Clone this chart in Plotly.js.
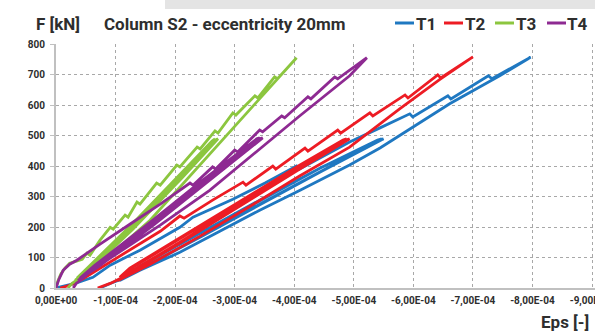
<!DOCTYPE html>
<html>
<head>
<meta charset="utf-8">
<script src="https://cdn.plot.ly/plotly-3.0.1.min.js"></script>
<style>
  html, body { margin: 0; padding: 0; background: #fff; overflow: hidden; }
  #chart { width: 595px; height: 334px; }
  #topbar { position: absolute; left: 165px; top: 0; width: 430px; height: 9px; background: #e4e4e4; z-index: 10; }
</style>
</head>
<body>
<div id="topbar"></div>
<div id="chart"></div>
<script>
// Strain values in units of 1E-4 (negative = compression), forces in kN
const epsT1 = [0,-0.15,-0.32,-0.62,-0.91,-1.41,-2.08,-2.30,-2.63,-2.97,-3.51,-4.04,-4.09,-4.60,-4.93,-5.44,-5.94,-5.99,-6.58,-6.63,-7.26,-7.32,-7.97,
  -7.92,-7.45,-6.61,-5.44,-4.93,-4.09,-3.42,-2.75,-2.08,-1.41,-1.07,
  -1.41,-2.42,-3.42,-4.43,-5.47,
  -5.40,-4.43,-3.42,-2.42,-1.41,-1.11,
  -1.44,-2.45,-3.46,-4.46,-5.50,
  -5.44,-4.46,-3.46,-2.45,-1.44,-1.14,
  -0.91,-0.74];
const forceT1 = [0,6,15,35,75,124,199,232,262,291,344,400,390,443,479,525,571,561,630,620,696,686,757,
  751,696,604,459,403,320,255,186,117,58,25,
  61,167,275,380,489,
  485,393,288,180,72,32,
  65,170,278,383,489,
  485,396,291,183,75,32,
  15,0];

const epsT2 = [-0.07,-0.23,-0.44,-0.74,-1.07,-1.41,-1.75,-2.08,-2.15,-2.63,-3.14,-3.19,-3.64,-3.69,-4.18,-4.23,-4.73,-4.78,-5.27,-5.32,-5.86,-5.91,-6.41,-6.46,-7.00,
  -6.95,-6.44,-5.77,-4.93,-4.09,-3.26,-2.42,-1.58,-1.04,
  -1.24,-2.08,-3.26,-4.09,-4.88,
  -4.82,-4.09,-3.26,-2.08,-1.24,-1.07,
  -1.29,-2.13,-3.31,-4.14,-4.93,
  -4.87,-4.14,-3.31,-2.13,-1.29,-1.12,
  -0.91,-0.70];
const forceT2 = [0,9,29,65,104,144,186,236,229,288,347,337,400,390,459,449,518,508,574,564,633,623,699,689,758,
  751,683,587,462,367,268,170,78,25,
  51,150,294,393,489,
  485,403,304,163,65,35,
  55,153,297,396,489,
  485,406,307,166,68,35,
  15,0];

const epsT3 = [0,-0.03,-0.08,-0.15,-0.23,-0.34,-0.44,-0.52,-0.57,-0.74,-0.91,-0.96,-1.16,-1.21,-1.36,-1.41,-1.69,-1.75,-2.03,-2.08,-2.37,-2.42,-2.67,-2.72,-2.97,-3.02,-3.34,-3.39,-3.67,-3.72,-4.04,
  -3.99,-3.26,-2.42,-1.58,-0.91,-0.49,-0.32,
  -0.57,-1.24,-2.08,-2.67,
  -2.62,-2.08,-1.24,-0.57,-0.35,
  -0.62,-1.29,-2.13,-2.72,
  -2.67,-2.13,-1.29,-0.62,-0.40,
  -0.27,-0.20];
const forceT3 = [0,22,45,65,81,88,94,114,107,157,199,193,239,232,282,275,344,337,403,397,462,456,515,508,574,567,630,623,692,686,755,
  741,584,403,222,107,48,25,
  65,190,360,489,
  482,373,202,74,32,
  68,193,364,489,
  485,376,205,78,32,
  15,0];

const epsT4 = [0,-0.05,-0.12,-0.23,-0.35,-0.74,-1.24,-1.75,-2.25,-2.30,-2.63,-2.68,-3.00,-3.05,-3.42,-3.47,-3.79,-3.84,-4.23,-4.28,-4.68,-4.73,-5.22,
  -5.15,-4.93,-4.09,-3.26,-2.58,-1.75,-0.91,-0.37,
  -0.65,-1.58,-2.42,-3.42,
  -3.37,-2.42,-1.58,-0.65,-0.40,
  -0.70,-1.63,-2.47,-3.47,
  -3.42,-2.47,-1.63,-0.70,-0.45,
  -0.34,-0.29];
const forceT4 = [0,29,58,78,91,144,209,275,344,337,397,390,452,446,518,512,564,558,627,620,692,686,755,
  741,696,564,429,320,206,98,25,
  65,202,334,492,
  489,347,215,74,32,
  68,205,337,492,
  489,350,218,78,32,
  15,0];

const seriesNames = ['T1','T2','T3','T4'];
const seriesColors = ['#1f78c1','#ed1c24','#8cc63f','#8e2a92'];
const xTickVals = [0,-1e-4,-2e-4,-3e-4,-4e-4,-5e-4,-6e-4,-7e-4,-8e-4,-9e-4];
const xTickText = ['0,00E+00','-1,00E-04','-2,00E-04','-3,00E-04','-4,00E-04','-5,00E-04','-6,00E-04','-7,00E-04','-8,00E-04','-9,00E-04'];
const yTickVals = [0,100,200,300,400,500,600,700,800];

const epsAll = [epsT1, epsT2, epsT3, epsT4];
const forceAll = [forceT1, forceT2, forceT3, forceT4];

const traces = seriesNames.map((n, i) => ({
  type: 'scatter', mode: 'lines', name: n,
  x: epsAll[i].map(v => v * 1e-4), y: forceAll[i],
  line: { color: seriesColors[i], width: 2.8 },
  showlegend: false, hoverinfo: 'skip'
}));

const W = 595, ML = 56, PW = W - ML, MT = 44, PH = 244;
const px = p => (p - ML) / PW;
const py = p => (MT + PH - p) / PH;

const FONT = 'Roboto, "Open Sans", sans-serif';
const TITLE_FONT = { family: FONT, size: 17, color: '#2e2e2e', weight: 700 };
const annotations = [
  { text: 'F [kN]', x: px(34), y: py(24), xref: 'paper', yref: 'paper', xanchor: 'left', yanchor: 'middle', showarrow: false, font: TITLE_FONT },
  { text: 'Column S2 - eccentricity 20mm', x: px(102), y: py(24), xref: 'paper', yref: 'paper', xanchor: 'left', yanchor: 'middle', showarrow: false, font: TITLE_FONT },
  { text: 'Eps [-]', x: px(591), y: py(322), xref: 'paper', yref: 'paper', xanchor: 'right', yanchor: 'middle', showarrow: false, font: TITLE_FONT }
];
const legendLine = [[395,414],[444,463],[495,514],[547,566]];
const legendText = [414,463,514,565];
const shapes = [];
seriesNames.forEach((n, i) => {
  shapes.push({ type: 'line', xref: 'paper', yref: 'paper', x0: px(legendLine[i][0]), x1: px(legendLine[i][1]), y0: py(23), y1: py(23),
    line: { color: seriesColors[i], width: 3 } });
  annotations.push({ text: n, x: px(legendText[i]), y: py(24), xref: 'paper', yref: 'paper', xanchor: 'left', yanchor: 'middle', showarrow: false, font: TITLE_FONT });
});

const TICK_FONT = { family: FONT, size: 10, color: '#2e2e2e', weight: 700 };
const layout = {
  width: 595, height: 334,
  margin: { l: ML, r: 0, t: MT, b: 334 - MT - PH, pad: 0 },
  paper_bgcolor: '#fff', plot_bgcolor: '#fff',
  showlegend: false,
  xaxis: {
    range: [0, -9.05e-4], autorange: false,
    tickvals: xTickVals, ticktext: xTickText, ticks: '', ticklabeloverflow: 'allow', ticklabelstandoff: 2,
    showgrid: true, gridcolor: '#a8a8a8', gridwidth: 1, griddash: '3px,3px',
    showline: true, linecolor: '#c0c0c0', linewidth: 2, zeroline: false,
    tickfont: TICK_FONT,
    automargin: false, fixedrange: true
  },
  yaxis: {
    range: [0, 800], autorange: false,
    tickvals: yTickVals, ticks: 'outside', ticklen: 4, tickcolor: '#c0c0c0', tickwidth: 1, ticklabelstandoff: 3,
    showgrid: true, gridcolor: '#a8a8a8', gridwidth: 1, griddash: '3px,3px',
    showline: true, linecolor: '#c0c0c0', linewidth: 2, zeroline: false,
    tickfont: TICK_FONT,
    automargin: false, fixedrange: true
  },
  annotations: annotations,
  shapes: shapes
};

Plotly.newPlot('chart', traces, layout, { staticPlot: true, displayModeBar: false });
</script>
</body>
</html>
